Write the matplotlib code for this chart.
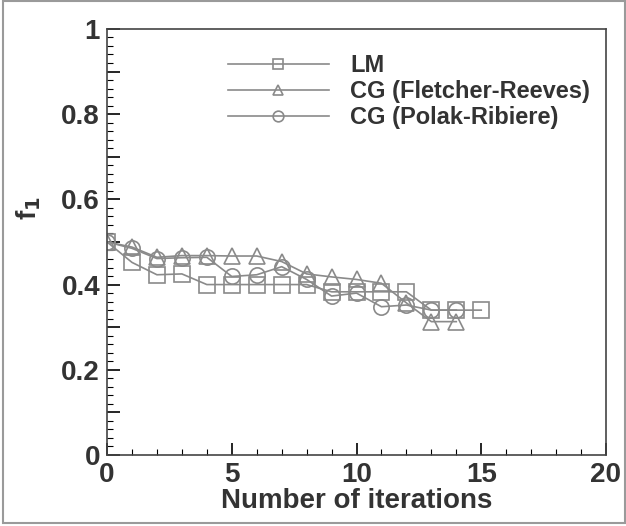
import numpy as np
import matplotlib
matplotlib.use("Agg")
from matplotlib import pyplot as plt
from matplotlib.ticker import MultipleLocator, FixedLocator, FixedFormatter

plt.rcParams['font.family'] = ['Liberation Sans', 'DejaVu Sans']

# data
iter_lm = np.arange(0, 16)
f1_lm = [0.50, 0.452, 0.423, 0.425, 0.40, 0.40, 0.40, 0.40, 0.40,
         0.383, 0.383, 0.383, 0.383, 0.34, 0.34, 0.34]

iter_fr = np.arange(0, 15)
f1_fr = [0.50, 0.488, 0.464, 0.468, 0.468, 0.467, 0.467, 0.454, 0.425,
         0.418, 0.412, 0.403, 0.357, 0.313, 0.313]

iter_pr = np.arange(0, 15)
f1_pr = [0.50, 0.485, 0.461, 0.463, 0.464, 0.419, 0.423, 0.442, 0.412,
         0.373, 0.380, 0.348, 0.352, 0.340, 0.340]

yticks = [0, 0.1, 0.2, 0.3, 0.4, 0.5, 0.6, 0.7, 0.8, 0.9, 1.0]
ylabels = ['0', '', '0.2', '', '0.4', '', '0.6', '', '0.8', '', '1']

gray = '#8a8a8a'
txt = '#333333'

fig = plt.figure(figsize=(6.26, 5.26), dpi=100)
ax = fig.add_axes([0.171, 0.135, 0.797, 0.810])

style = dict(color=gray, lw=1.2, mfc='none', mec=gray, mew=1.2, ms=11)
ax.plot(iter_lm, f1_lm, marker='s', label='LM', **style)
ax.plot(iter_fr, f1_fr, marker='^', label='CG (Fletcher-Reeves)', **style)
ax.plot(iter_pr, f1_pr, marker='o', label='CG (Polak-Ribiere)', **style)

ax.set_xlim(0, 20)
ax.set_ylim(0, 1)
ax.xaxis.set_major_locator(MultipleLocator(5))
ax.xaxis.set_minor_locator(MultipleLocator(1))
ax.yaxis.set_major_locator(FixedLocator(yticks))
ax.yaxis.set_major_formatter(FixedFormatter(ylabels))
ax.yaxis.set_minor_locator(MultipleLocator(0.02))

ax.tick_params(which='major', direction='in', length=9, width=1.2,
               labelsize=20, labelcolor=txt, top=False, right=False, pad=5)
ax.tick_params(which='minor', direction='in', length=4, width=0.8,
               top=False, right=False)
for lab in ax.get_xticklabels() + ax.get_yticklabels():
    lab.set_fontweight('bold')
for sp in ax.spines.values():
    sp.set_linewidth(1.2)
    sp.set_color('#444444')

ax.set_xlabel('Number of iterations', fontsize=20, fontweight='bold',
              color=txt, labelpad=0)
ax.set_ylabel(r'f$_\mathbf{1}$', fontsize=20, fontweight='bold',
              color=txt)
ax.yaxis.set_label_coords(-0.128, 0.58)

leg = ax.legend(loc='upper left', bbox_to_anchor=(0.199, 0.99), frameon=False,
                handlelength=4.3, handletextpad=0.9, numpoints=1,
                labelspacing=0.12, markerscale=0.7,
                prop={'size': 17, 'weight': 'bold'})
for t in leg.get_texts():
    t.set_color(txt)

# scan frame around the picture
fig.patches.append(plt.Rectangle((0.004, 0.006), 0.994, 0.992,
                                 transform=fig.transFigure, fill=False,
                                 ec='#9a9a9a', lw=1.5))

fig.savefig('out.png', dpi=100)
